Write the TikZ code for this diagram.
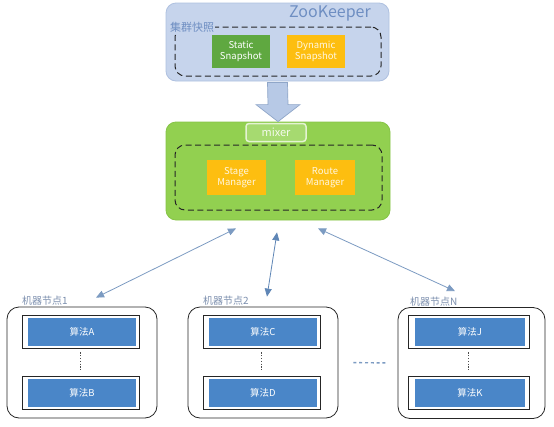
\documentclass[tikz,border=0pt]{standalone}
\usepackage{fontspec}
\setmainfont{Noto Sans CJK SC}
\usetikzlibrary{arrows.meta,calc}
\definecolor{zkfill}{HTML}{C6D4EC}
\definecolor{zkdraw}{HTML}{AFC1E0}
\definecolor{zktext}{HTML}{6E8EC2}
\definecolor{sgreen}{HTML}{5FA840}
\definecolor{gold}{HTML}{FDBE10}
\definecolor{mixg}{HTML}{92D050}
\definecolor{mixd}{HTML}{86C447}
\definecolor{mlab}{HTML}{A6DA70}
\definecolor{algblue}{HTML}{4A86C8}
\definecolor{arr}{HTML}{7C9BC2}
\definecolor{arrd}{HTML}{5F86B6}
\definecolor{lab}{HTML}{7C8FAE}
\definecolor{barrow}{HTML}{B7C9E6}
\definecolor{barrowd}{HTML}{8FA6C8}
\tikzset{
  zkbox/.style={draw=zkdraw, fill=zkfill, rounded corners=10pt, line width=0.8pt},
  mixbox/.style={draw=mixd, fill=mixg, rounded corners=10pt, line width=0.8pt},
  dashbox/.style={draw=black!85, dash pattern=on 6pt off 3.5pt, rounded corners=10pt, line width=1pt},
  smallbox/.style={minimum width=58pt, minimum height=33pt, inner sep=1pt, align=center, font=\fontsize{9.5}{11}\selectfont},
  mbox/.style={draw=black!85, rounded corners=12pt, line width=0.8pt, minimum height=111pt},
  algout/.style={draw=black!85, fill=white, line width=0.8pt, minimum width=117pt, minimum height=33pt, inner sep=0pt},
  algin/.style={fill=algblue, text=white, minimum width=108pt, minimum height=28pt, inner sep=0pt, font=\fontsize{9.5}{11}\selectfont},
  mlabel/.style={text=lab, anchor=west, inner sep=0pt, font=\fontsize{10}{12}\selectfont},
  link/.style={arr, line width=0.8pt, {Triangle[length=8pt,width=7pt]}-{Triangle[length=8pt,width=7pt]}},
  vdots/.style={black!70, line width=1pt, dash pattern=on 1.2pt off 1.6pt, shorten >=4pt, shorten <=4pt},
}
\begin{document}
\begin{tikzpicture}[x=1pt,y=-1pt]
\useasboundingbox (0,0) rectangle (554,426);
\fill[white] (0,0) rectangle (554,426);
% ZooKeeper
\node[zkbox, minimum width=223pt, minimum height=78pt] (zk) at (277.5,42) {};
\node[text=zktext, font=\fontsize{16}{18}\selectfont, inner sep=0pt] (zkt) at (330,13) {ZooKeeper};
\node[dashbox, minimum width=206pt, minimum height=49pt] (snap) at (278,51.5) {};
\node[fill=zkfill, text=zktext, anchor=west, inner sep=1pt, font=\fontsize{11}{12}\selectfont] (snapl) at (169,27.5) {集群快照};
\node[smallbox, fill=sgreen, text=white] (static) at (241,51.5) {Static\\Snapshot};
\node[smallbox, fill=gold, text=white!88!gold] (dynamic) at (316,51.5) {Dynamic\\Snapshot};
% mixer
\node[mixbox, minimum width=224pt, minimum height=98pt] (mixer) at (278,171) {};
\node[draw=white!75!mixg, fill=mlab, line width=1.5pt, rounded corners=3pt, minimum width=60pt, minimum height=18pt, inner sep=0pt, text=white!90!mixg, font=\fontsize{11}{12}\selectfont] (mixl) at (276,132.5) {mixer};
\node[dashbox, minimum width=207pt, minimum height=65pt] (mdash) at (278.5,177.5) {};
\node[smallbox, fill=gold, text=white!88!gold, minimum width=59pt, minimum height=35pt] (stage) at (236.5,177.5) {Stage\\Manager};
\node[smallbox, fill=gold, text=white!88!gold, minimum width=60pt, minimum height=35pt] (route) at (325,177.5) {Route\\Manager};
% block arrow
\draw[fill=barrow, draw=barrowd, line width=0.7pt]
  ($(zk.south)+(-10,1)$) -- ($(zk.south)+(10,1)$) -- ($(mixer.north)+(10,-17)$) -- ($(mixer.north)+(22,-17)$)
  -- ($(mixer.north)+(0,0)$) -- ($(mixer.north)+(-22,-17)$) -- ($(mixer.north)+(-10,-17)$) -- cycle;
% machine nodes
\node[mbox, minimum width=150pt] (m1) at (82,362.5) {};
\node[mbox, minimum width=150pt] (m2) at (263,362.5) {};
\node[mbox, minimum width=147pt] (mN) at (471.5,363) {};
\node[mlabel] (l1) at (22,301) {机器节点1};
\node[mlabel] (l2) at (203,301) {机器节点2};
\node[mlabel] (lN) at (410,301.5) {机器节点N};
% algorithm boxes
\node[algout] (oA) at (80.5,331.5) {};
\node[algin] (A) at (82,332) {算法A};
\node[algout] (oB) at (80.5,392.5) {};
\node[algin] (B) at (82,393) {算法B};
\node[algout] (oC) at (261.5,331.5) {};
\node[algin] (C) at (263,332) {算法C};
\node[algout] (oD) at (261.5,392.5) {};
\node[algin] (D) at (263,393) {算法D};
\node[algout, minimum width=121pt] (oJ) at (468.5,331.5) {};
\node[algin, minimum width=110pt] (J) at (470,332) {算法J};
\node[algout, minimum width=121pt] (oK) at (468.5,392.5) {};
\node[algin, minimum width=110pt] (K) at (470,393) {算法K};
\draw[vdots] (oA.south) -- (oB.north);
\draw[vdots] (oC.south) -- (oD.north);
\draw[vdots] (oJ.south) -- (oK.north);
\draw[arr, line width=1.4pt, dash pattern=on 3pt off 2.8pt, shorten <=15pt, shorten >=11pt] (m2.east) -- (mN.west);
% links
\draw[link] ($(mixer.south)+(-42,8)$) -- ($(m1.north)+(14,-9)$);
\draw[link, arrd] ($(mixer.south)+(-1,12)$) -- ($(m2.north)+(4,-10)$);
\draw[link] ($(mixer.south)+(40,8)$) -- ($(mN.north)+(-16.5,-16)$);
\end{tikzpicture}
\end{document}
